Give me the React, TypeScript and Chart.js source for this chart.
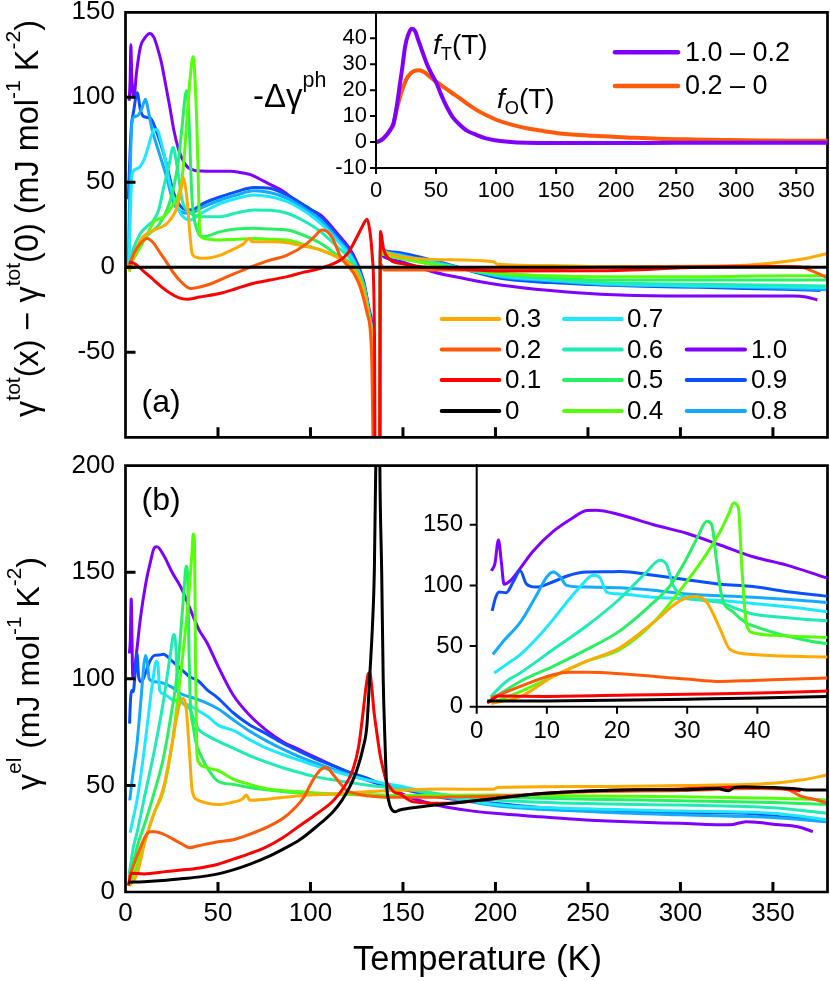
import React, { useEffect, useRef } from 'react';
import { Chart, registerables } from 'chart.js';

Chart.register(...registerables);

const W = 830;
const H = 981;
const AX = 100; // reserved width / height for axis boxes
const FONT = '"Liberation Sans", Arial, Helvetica, sans-serif';

// ---------------- series ----------------
const SERIES = ['0', '0.1', '0.2', '0.3', '0.4', '0.5', '0.6', '0.7', '0.8', '0.9', '1.0'];
const COLORS = ['#000000', '#ff0000', '#ff5a0a', '#ffaa00', '#55ff0a', '#28f064', '#1eecb4', '#1ee8ff', '#14aaff', '#0a50ff', '#8000ff'];

// ---------------- panel (a): gamma_tot(x) - gamma_tot(0) ----------------
const aT_00 = [0, 380];
const aV_00 = [0, 0];
const aT_01 = [1.8, 4.5, 10, 15.3, 20, 24.2, 29, 33.3, 40, 51.4, 60, 69.4, 78, 87.4, 96, 105.4, 116.2, 120, 125.2, 128, 130.6, 132, 133.3, 134.6, 135.1, 137.3, 137.8, 139.6, 143.2, 150, 159.5, 180, 203, 257, 311, 350, 370];
const aV_01 = [3, 2.4, -2.5, -7.5, -12, -15.3, -18, -18.8, -17.5, -15.3, -12.5, -9.4, -7.5, -5.5, -3, -0.6, 4.3, 8, 18, 24, 28.2, 22, 8, -40, -160, -160, 21, 10.2, 4.3, 2, 0.4, -1, -2.2, -2, 0, 0.4, 0];
const aT_02 = [1.8, 4.5, 8, 11.7, 15, 18.9, 22.5, 26.1, 30, 35.1, 44.1, 55, 65.8, 76, 87.4, 98.2, 103, 106, 109, 112, 116.2, 123.4, 127, 130.6, 133, 134.8, 137.3, 137.8, 140, 150, 180, 203, 257, 290, 329, 365, 372, 380];
const aV_02 = [0, 8.2, 14, 17, 14.5, 8.2, 2.5, -3.5, -8.5, -12.4, -10.4, -5.5, -0.6, 3.5, 7.2, 14.1, 19, 21.9, 21, 17, 6.2, -3.5, -12, -27, -50, -160, -160, 2, -1.6, -1.6, -1.6, -1.6, 0, 0.5, 0.8, 0, -2.5, -6.5];
const aT_03 = [2, 4, 8.1, 12, 15.3, 22.5, 27.9, 30, 31.2, 32.3, 33.3, 34.8, 36, 38, 40.5, 45, 51.4, 58, 64, 66.7, 68.5, 72, 78.4, 87.4, 96, 105.4, 114.4, 123.4, 128.8, 132.4, 134.4, 134.8, 137.3, 137.8, 140, 148.6, 170, 199, 201, 230, 257, 311, 347, 365, 380];
const aV_03 = [-2, 5, 16, 20, 21.9, 25.9, 35.6, 46, 52.9, 48, 39.6, 20, 8.2, 6, 5.3, 5.5, 7.2, 10.5, 14, 17, 15, 15, 15, 14.5, 12.5, 10.2, 5.9, -0.6, -14, -34, -70, -160, -160, 10, 9, 6.2, 4.5, 3.3, 1.8, 1, 0.4, 0.4, 2.3, 4.7, 8.2];
const aT_04 = [2, 4, 8.1, 12, 15.3, 20.7, 26.1, 29.7, 31.5, 33.3, 35, 36.6, 37.6, 38.7, 39.6, 40.2, 42.4, 51.4, 60, 69.4, 78.4, 87.4, 96, 105.4, 114.4, 123.4, 128.8, 132.4, 134.4, 134.8, 137.3, 137.8, 140, 150, 170, 202.7, 230, 256.8, 311, 356, 380];
const aV_04 = [-2.6, 4, 12.1, 20, 26.8, 29.8, 37.6, 47, 62, 88.6, 112, 124, 110, 78.8, 40, 20, 17, 16, 16.5, 17, 16.5, 16, 13.5, 10.2, 6.2, -1.6, -14, -34, -70, -160, -160, 8, 7.5, 5, 1, -3.5, -5, -5.5, -5.5, -5, -5];
const aT_05 = [2, 4, 8.1, 12, 15.3, 18, 20.7, 23.5, 26.1, 28.5, 30.6, 33, 34.2, 35.2, 36, 38.7, 42, 51.4, 60, 69.4, 78.4, 87.4, 96, 105.4, 114.4, 123.4, 128.8, 132.4, 134.4, 134.8, 137.3, 137.8, 140, 150, 170, 202.7, 230, 256.8, 311, 356, 380];
const aV_05 = [-1, 6, 14.1, 19, 21.9, 25, 29.8, 37, 47.4, 62, 82.7, 103.9, 90, 60, 39.6, 21.9, 18, 21, 22.5, 22.9, 22.5, 22, 19, 14.1, 7.2, 0.4, -12.5, -33, -70, -160, -160, 8, 7.5, 5, 1, -4, -6, -7.5, -7.5, -7.5, -7.5];
const aT_06 = [1.8, 4, 8.1, 12, 15.3, 18, 20.7, 23.5, 25.7, 27.9, 30.6, 35.1, 40.5, 51.4, 60, 69.4, 78.4, 87.4, 96, 105.4, 114.4, 123.4, 128.8, 132.4, 134.4, 134.8, 137.3, 137.8, 140, 150, 170, 202.7, 230, 256.8, 311, 356, 380];
const aV_06 = [0, 10, 20, 24.5, 27.8, 34, 47.4, 60, 70.4, 59.2, 39.6, 32, 29.8, 29.8, 32, 33.7, 33.5, 31.8, 27.5, 21, 12.1, 2.4, -11, -32, -70, -160, -160, 9, 8.5, 6, 1.5, -4.5, -7, -9, -10, -10.5, -11];
const aT_07 = [1.8, 3.6, 6.3, 9.9, 12.6, 15.3, 17.1, 18.9, 21.6, 24.3, 29.7, 35.1, 40.5, 51.4, 60, 69.4, 78, 87.4, 96, 105.4, 114.4, 123.4, 128.8, 132.4, 134.4, 134.8, 137.3, 137.8, 140, 150, 170, 202.7, 230, 256.8, 311, 356, 380];
const aV_07 = [0, 55, 58, 63, 72, 80.8, 81, 74.9, 63, 47.4, 31.8, 27.8, 31.5, 37.6, 40.5, 42.5, 41.5, 38.6, 33.5, 25.9, 15.7, 3.3, -11, -32, -70, -160, -160, 10, 9, 6.5, 2, -5, -7.5, -9.5, -11, -11.5, -12];
const aT_08 = [1.5, 2.2, 3.6, 6.3, 9, 10.8, 12.6, 14.4, 17.1, 21.6, 26.1, 29.7, 33.3, 36.9, 40.5, 51.4, 60, 69.4, 78, 87.4, 96, 105.4, 114.4, 123.4, 128.8, 132.4, 134.4, 134.8, 137.3, 137.8, 140, 150, 170, 202.7, 230, 256.8, 311, 356, 380];
const aV_08 = [0, 40, 87, 89, 94, 98.8, 90.6, 80.8, 71, 55.3, 37.6, 33, 31.8, 32.5, 34.7, 39.6, 42.5, 45, 44, 40.6, 35, 27.8, 17, 4.3, -10.4, -31, -70, -160, -160, 11, 9.5, 7, 2.5, -5.5, -8, -10, -11.2, -12.3, -13.2];
const aT_09 = [1.5, 3, 4.5, 6.3, 8.1, 9.9, 13.5, 17.1, 21.6, 26.1, 29.7, 33.3, 36.9, 40.5, 45, 51.4, 60, 69.4, 78, 87.4, 96, 105.4, 114.4, 123.4, 128.8, 132.4, 134.4, 134.8, 137.3, 137.8, 139.6, 145, 150.4, 170, 202.7, 230, 256.8, 280, 310.8, 335, 355.8, 375.7];
const aV_09 = [40, 80, 92.5, 102.7, 92.5, 88.6, 87.6, 78.8, 63.1, 43.5, 36, 33.7, 34, 36.6, 39, 41.5, 44.5, 47, 46.5, 42.5, 37, 29.8, 19, 5.3, -9.4, -31, -70, -160, -160, 12, 10.2, 9, 8.2, 3, -6.5, -9, -10.4, -11.2, -11.8, -12.4, -12.9, -13.7];
const aT_10 = [2, 2.5, 2.9, 3.4, 4.5, 6, 8.1, 10.5, 13.1, 15.5, 17.1, 19.5, 21.6, 24, 26.1, 28.8, 31, 33.3, 36, 40.5, 50, 56.8, 62, 67.6, 75, 85.6, 96.4, 105.4, 114.4, 123.2, 128.6, 132.2, 134.3, 134.8, 137.3, 137.8, 140, 150, 166, 185, 202.7, 229.7, 256.8, 292.8, 328.8, 361, 368, 374];
const aV_10 = [98, 110, 131, 112, 100, 115, 129.8, 135, 137.6, 135, 129.8, 120, 108, 94, 80.8, 69, 63, 59.2, 57.5, 56.6, 56.5, 56.5, 55.8, 54.5, 50.5, 44.5, 35.6, 30.8, 20, 7.2, -7.5, -27, -60, -160, -160, 8, 6, 3, -2.6, -7, -10.4, -13.7, -15.9, -16.9, -16.9, -16.9, -17.5, -19.2];

// ---------------- panel (b): gamma_el (also used by inset b) ----------------
const bT_00 = [1.5, 10, 22.1, 30, 40.2, 50, 58.2, 67, 76.2, 85, 94.2, 103, 112.2, 117, 121.2, 125, 128.4, 130.5, 132, 133.5, 134.5, 135.3, 136, 136.8, 137.5, 138.5, 139.3, 140.3, 141.1, 142.5, 144.7, 146, 148.3, 160, 180, 200, 225, 250, 275, 300, 320, 326, 329, 335, 350, 362, 368, 380];
const bV_00 = [4.6, 4.8, 5.5, 6.2, 7.1, 8.5, 10.4, 13, 16.2, 20, 24.5, 30.5, 37.7, 43, 49.3, 57, 67.5, 78, 100.7, 125, 150, 200, 300, 300, 200, 150, 100.7, 70, 51, 42, 38, 37.7, 38.5, 40, 42, 43.9, 46.2, 47.4, 48, 48, 48.5, 47.5, 49, 49.3, 49, 48.5, 47.8, 47.8];
const bT_01 = [1.5, 3.2, 10, 22.1, 30, 40.2, 50, 58.2, 67, 76.2, 85, 94.2, 103, 112.2, 118, 123, 126, 128.4, 130, 131.2, 132, 133, 134.3, 135.7, 137.5, 139.3, 141, 142.9, 145, 148.3, 155, 170, 181, 200, 225, 250, 300, 335, 355, 365];
const bV_01 = [3, 8.8, 8.5, 9.6, 10.3, 11.3, 13, 15.4, 18, 21.2, 25.5, 31.1, 36.5, 42.7, 49, 57.6, 68, 84.1, 96, 102.3, 103, 97.4, 85, 75.8, 65, 57.6, 52, 49.3, 47, 46, 42.4, 41.6, 42, 43.9, 46.2, 47.4, 48.3, 49.3, 48.5, 47.5];
const bT_02 = [2, 6.2, 10.9, 13.3, 15.7, 20.4, 29.9, 34.7, 39.4, 50, 58.2, 67, 76.2, 85, 90.6, 96, 101.4, 105, 107.7, 110, 112.2, 116, 119.4, 125, 130.3, 135, 140, 148.3, 170, 200, 250, 300, 340, 358, 365, 372, 380];
const bV_02 = [7, 16.7, 26.4, 28.3, 28.3, 27.2, 22.8, 20.8, 21.7, 23.6, 24.5, 27, 30.3, 34.5, 38.6, 44, 52.6, 57, 58.4, 57.5, 55.1, 51, 47.7, 46, 45.2, 44.8, 44.5, 44.4, 44.5, 45, 47, 47.6, 48.5, 48, 45, 43.5, 41.6];
const bT_03 = [2.1, 6.2, 10.9, 15.7, 20.4, 25.2, 29, 31.3, 32.8, 34.7, 36.1, 39.4, 45, 50, 58.2, 63, 65.4, 67.2, 76.2, 94.2, 112.2, 130, 148.3, 170, 199, 201, 250, 300, 350, 365, 380];
const bV_03 = [2.8, 8.3, 25, 37.5, 48.6, 69.5, 87.5, 90.8, 86, 64, 47.2, 43, 41.5, 41, 42.2, 43.5, 45.5, 43, 43.5, 45.2, 46, 47, 47.7, 48.3, 48.2, 49, 49.5, 50, 51, 52.5, 55];
const bT_04 = [2.1, 6.2, 10.9, 15.7, 20.4, 25.2, 29.9, 33, 34.7, 36, 36.6, 37.3, 37.8, 38.5, 39.4, 44.2, 50, 58.2, 67, 76.2, 94.2, 112.2, 130.3, 148.3, 170, 200, 250, 300, 350, 380];
const bV_04 = [2.8, 12.5, 25, 37.5, 47.2, 69.5, 102.8, 128, 144.5, 160, 168, 164, 114, 66.7, 61, 58.3, 57, 53, 50.5, 48.5, 47, 46, 45.5, 45.3, 45.4, 45.5, 45, 44.7, 44, 43.2];
const bT_05 = [2, 6.2, 10.9, 15.7, 20.4, 25.2, 27.6, 29.9, 31.5, 32.8, 33.5, 34.2, 34.9, 36.6, 38.4, 39.4, 44.2, 50, 58.2, 67, 76.2, 94.2, 112.2, 130.3, 148.3, 170, 200, 250, 300, 350, 380];
const bV_05 = [5.6, 20.8, 33.3, 47.2, 62.5, 86, 100, 122, 140, 152.8, 150, 119.5, 91.7, 77.8, 69, 66.7, 58.3, 52, 50.5, 49, 48, 46.5, 46, 45.6, 45.2, 44.8, 44.4, 43.5, 42.8, 42, 41];
const bT_06 = [2, 4.2, 6.2, 10.9, 15.7, 20.4, 24.2, 26.1, 27.1, 28, 29, 32.3, 34.7, 37.1, 39.4, 45, 50, 58.2, 67, 76.2, 85, 94.2, 103, 112.2, 130.3, 148.3, 170, 200, 250, 300, 350, 379];
const bV_06 = [8.3, 20.8, 27.8, 47.2, 66.7, 89, 111, 120.8, 116.7, 100, 92.5, 87.5, 86, 80.6, 76.4, 73, 70.8, 67.5, 64, 60.9, 58.3, 56, 54, 52.6, 50.2, 48.5, 46, 43.2, 41.5, 40.8, 39.5, 37];
const bT_07 = [2.5, 4.2, 6.2, 8.5, 10.9, 13.1, 14.7, 16.6, 17.6, 18.5, 20.4, 25.2, 29.9, 34.7, 39.4, 45, 50, 58.2, 67, 76.2, 85, 94.2, 103, 112.2, 130.3, 148.3, 170, 200, 250, 300, 350, 379];
const bV_07 = [27.8, 34.7, 43, 56, 72, 88, 98.6, 108.3, 106, 94.5, 93, 90.3, 89, 87.5, 85, 82, 78.3, 75.8, 71.5, 67.5, 64.5, 61.8, 59.2, 56.8, 52.6, 49.7, 45.5, 41, 39, 38, 37, 34];
const bT_08 = [2.3, 3.8, 6.2, 8.5, 10, 10.9, 11.9, 12.8, 15.7, 20.4, 25.2, 29.9, 39.4, 50, 58.2, 67, 76.2, 85, 94.2, 103, 112.2, 130.3, 148.3, 170, 200, 250, 300, 350, 379];
const bV_08 = [43, 54, 69.5, 91.7, 107, 111, 107, 100, 98.6, 98, 96, 93, 90.3, 86, 80.8, 75.5, 70.9, 67, 63.4, 60.4, 57.6, 52.6, 49.3, 45, 40.5, 37.8, 36.2, 35, 33];
const bT_09 = [2.2, 2.7, 3.2, 4.2, 5.2, 6.2, 7.1, 8.5, 10.9, 13, 15.7, 18.5, 20.4, 25.2, 29.9, 34.7, 39.4, 44, 50, 58.2, 67, 76.2, 85, 94.2, 103, 112.2, 121, 130.3, 137.5, 148.3, 170, 199.6, 224, 249, 275, 299.6, 335.6, 353.6, 375];
const bV_09 = [79, 90, 94.5, 94, 102.8, 112, 101, 98.6, 103, 108, 111, 111.2, 111.5, 108.3, 104.7, 101, 99, 95, 91, 84.1, 78.5, 74.2, 69.8, 65.9, 62.4, 59.3, 56.2, 53.5, 51, 48.5, 44.5, 41.6, 39.7, 38.5, 37.8, 37.2, 37, 35.3, 34.1];
const bT_10 = [2.1, 2.6, 3.1, 3.5, 3.9, 5, 6.2, 8, 10.9, 13.5, 15.7, 17, 20.4, 25.2, 29.9, 34.7, 39.4, 44.2, 50, 58.2, 67, 76.2, 85, 94.2, 103, 112.2, 121, 130.3, 139, 148.3, 155, 170, 185, 199.6, 224, 249, 275, 299.6, 326.6, 335.6, 353.6, 364, 371.6];
const bV_10 = [112, 118, 137.5, 120, 101, 105, 114, 128, 144.5, 155, 161.7, 162, 158.3, 150, 143, 133.3, 123.6, 116.7, 106, 92.4, 83, 75.8, 70.5, 66.7, 63, 59.3, 56, 52.6, 50, 46.5, 44, 40.5, 38.3, 36.9, 35.3, 33.8, 32.8, 32.2, 31.5, 33, 31.5, 30.5, 28.3];

// ---------------- inset (a): -Δγ_ph ----------------
const INSET_A_LABELS = ['1.0 – 0.2', '0.2 – 0'];
const INSET_A_COLORS = ['#8000ff', '#ff5a0a'];
const fT_T = [0, 3, 6.1, 9, 11.7, 14.4, 17, 20, 22, 24.2, 26.5, 29.7, 32.5, 35.3, 38.5, 42.2, 46, 50.5, 54.5, 58.9, 64, 70, 76, 83.9, 90, 97.8, 110, 125.5, 150, 200, 250, 300, 377];
const fT_V = [0, 0.4, 1.4, 2.8, 4.6, 7, 13, 22.6, 29, 36.7, 41, 43.7, 42.8, 39.2, 35, 30.3, 26.5, 22.6, 18, 13.6, 9.5, 6.6, 4.3, 2.7, 1.6, 0.8, 0.1, -0.3, -0.4, -0.4, -0.3, -0.3, -0.3];
const fO_T = [0, 3, 6.1, 9, 11.7, 14.4, 17, 20, 22.5, 25.6, 29, 32, 36, 40, 45, 50, 56.1, 63, 70, 77, 83.9, 92, 100.6, 112, 125.5, 140, 153.3, 180, 208.9, 235, 264.4, 290, 320, 350, 377];
const fO_V = [0, 0.4, 1.4, 2.8, 4.6, 6.5, 12, 17.4, 21, 24.5, 26.5, 27.4, 27.7, 27, 25.1, 23.3, 21.3, 19, 16.8, 14.4, 12.3, 10.3, 8.5, 6.8, 5.3, 4.2, 3.3, 2.4, 1.8, 1.3, 1, 0.8, 0.6, 0.5, 0.5];

// ---------------- legend of panel (a) ----------------
const LEG_COL1 = ['0.3', '0.2', '0.1', '0'];
const LEG_COL2 = ['0.7', '0.6', '0.5', '0.4'];
const LEG_COL3 = ['', '1.0', '0.9', '0.8'];

const A_T = [aT_00, aT_01, aT_02, aT_03, aT_04, aT_05, aT_06, aT_07, aT_08, aT_09, aT_10];
const A_V = [aV_00, aV_01, aV_02, aV_03, aV_04, aV_05, aV_06, aV_07, aV_08, aV_09, aV_10];
const B_T = [bT_00, bT_01, bT_02, bT_03, bT_04, bT_05, bT_06, bT_07, bT_08, bT_09, bT_10];
const B_V = [bV_00, bV_01, bV_02, bV_03, bV_04, bV_05, bV_06, bV_07, bV_08, bV_09, bV_10];

const zip = (t: number[], v: number[]) => {
  const n = Math.min(t.length, v.length);
  const out: { x: number; y: number }[] = [];
  for (let i = 0; i < n; i++) out.push({ x: t[i], y: v[i] });
  return out;
};

function seriesSets(ts: number[][], vs: number[][], width: number) {
  return SERIES.map((name, i) => ({
    label: name,
    data: zip(ts[i], vs[i]),
    borderColor: COLORS[i],
    backgroundColor: COLORS[i],
    borderWidth: width,
    pointRadius: 0,
    fill: false,
    cubicInterpolationMode: 'monotone' as const,
  }));
}

// ---------------- rich text helper ----------------
type Seg = { t: string; sup?: boolean; sub?: boolean; it?: boolean; raise?: number };
function drawRich(ctx: CanvasRenderingContext2D, segs: Seg[], x: number, y: number, sz: number,
  align: 'left' | 'center' = 'left', rot = 0, fit = 0) {
  const f = (s: Seg, size: number) => `${s.it ? 'italic ' : ''}${(s.sup || s.sub) ? size * 0.65 : size}px ${FONT}`;
  const width = (size: number) => {
    let w = 0;
    for (const s of segs) { ctx.font = f(s, size); w += ctx.measureText(s.t).width; }
    return w;
  };
  let size = sz;
  if (fit > 0) size = sz * fit / width(sz);
  const tw = width(size);
  ctx.save();
  ctx.translate(x, y);
  if (rot) ctx.rotate(rot);
  ctx.fillStyle = '#000';
  ctx.textBaseline = 'alphabetic';
  ctx.textAlign = 'left';
  let cx = align === 'center' ? -tw / 2 : 0;
  for (const s of segs) {
    ctx.font = f(s, size);
    const dy = s.sup ? -(s.raise ?? 0.5) * size : s.sub ? 0.22 * size : 0;
    ctx.fillText(s.t, cx, dy);
    cx += ctx.measureText(s.t).width;
  }
  ctx.restore();
}

function axesDeco(chart: any, inward: boolean, full: boolean, xt: number[], yt: number[], lw: number, tw: number, len: number) {
  const ctx: CanvasRenderingContext2D = chart.ctx;
  const { left, right, top, bottom } = chart.chartArea;
  const xs = chart.scales.x;
  const ys = chart.scales.y;
  ctx.save();
  ctx.strokeStyle = '#000';
  ctx.lineWidth = lw;
  ctx.lineJoin = 'miter';
  ctx.beginPath();
  if (full) {
    ctx.rect(left, top, right - left, bottom - top);
  } else {
    ctx.moveTo(left, top);
    ctx.lineTo(left, bottom);
    ctx.lineTo(right, bottom);
  }
  ctx.stroke();
  ctx.lineWidth = tw;
  ctx.beginPath();
  for (const v of xt) {
    const px = xs.getPixelForValue(v);
    ctx.moveTo(px, bottom);
    ctx.lineTo(px, inward ? bottom - len : bottom + len);
  }
  for (const v of yt) {
    const py = ys.getPixelForValue(v);
    ctx.moveTo(left, py);
    ctx.lineTo(inward ? left + len : left - len, py);
  }
  ctx.stroke();
  ctx.restore();
}

type Box = { l: number; t: number; r: number; b: number };
type Spec = {
  box: Box;
  x: [number, number, number];
  y: [number, number, number];
  xLabels: boolean;
  fontSize: number;
  xPad: number;
  yPad: number;
  xKeep?: number[];
  yKeep?: number[];
  datasets: any[];
  draw: (chart: any) => void;
};

function makeChart(canvas: HTMLCanvasElement, s: Spec) {
  const fitY = (sc: any) => { sc.width = AX; sc.paddingTop = 0; sc.paddingBottom = 0; sc.paddingLeft = 0; sc.paddingRight = 0; };
  const fitX = (sc: any) => { sc.height = AX; sc.paddingTop = 0; sc.paddingBottom = 0; sc.paddingLeft = 0; sc.paddingRight = 0; };
  const font = { family: FONT, size: s.fontSize };
  return new Chart(canvas, {
    type: 'line',
    data: { datasets: s.datasets },
    options: {
      animation: false,
      responsive: false,
      maintainAspectRatio: false,
      devicePixelRatio: 1,
      events: [],
      layout: { padding: { left: s.box.l - AX, right: W - s.box.r, top: s.box.t, bottom: H - s.box.b - AX } },
      plugins: { legend: { display: false }, tooltip: { enabled: false }, title: { display: false } },
      scales: {
        x: {
          type: 'linear', min: s.x[0], max: s.x[1],
          afterFit: fitX,
          afterBuildTicks: (sc: any) => { if (s.xKeep) sc.ticks = s.xKeep.map((value) => ({ value })); },
          grid: { display: false, drawTicks: false, tickLength: 0 },
          border: { display: false },
          ticks: { display: s.xLabels, stepSize: s.x[2], font, color: '#000', padding: s.xPad, maxRotation: 0, autoSkip: false, includeBounds: false },
        },
        y: {
          type: 'linear', min: s.y[0], max: s.y[1],
          afterFit: fitY,
          afterBuildTicks: (sc: any) => { if (s.yKeep) sc.ticks = s.yKeep.map((value) => ({ value })); },
          grid: { display: false, drawTicks: false, tickLength: 0 },
          border: { display: false },
          ticks: { stepSize: s.y[2], font, color: '#000', padding: s.yPad, autoSkip: false, includeBounds: false },
        },
      },
    } as any,
    plugins: [{ id: 'deco', afterDraw: s.draw }],
  });
}

const XT_MAIN = [50, 100, 150, 200, 250, 300, 350];
const XL_MAIN = [0, 50, 100, 150, 200, 250, 300, 350];
const YL_A = [-50, 0, 50, 100, 150];
const YL_B = [0, 50, 100, 150, 200];
const XL_IA = [0, 50, 100, 150, 200, 250, 300, 350];
const YL_IA = [-10, 0, 10, 20, 30, 40];
const XL_IB = [0, 10, 20, 30, 40];
const YL_IB = [0, 50, 100, 150];

export default function App() {
  const rA = useRef<HTMLCanvasElement>(null);
  const rB = useRef<HTMLCanvasElement>(null);
  const rIA = useRef<HTMLCanvasElement>(null);
  const rIB = useRef<HTMLCanvasElement>(null);

  useEffect(() => {
    const charts: Chart[] = [];

    // ---- panel (a)
    charts.push(makeChart(rA.current!, {
      box: { l: 125.5, t: 12.3, r: 827.5, b: 437.3 },
      x: [0, 379.5, 50],
      y: [-100, 150, 50],
      xLabels: false,
      fontSize: 26,
      xPad: 6,
      yPad: 10.5,
      xKeep: XL_MAIN,
      yKeep: YL_A,
      datasets: seriesSets(A_T, A_V, 3),
      draw: (chart: any) => {
        axesDeco(chart, true, true, XT_MAIN, [100, 50, 0, -50], 2.7, 3, 10);
        const ctx: CanvasRenderingContext2D = chart.ctx;
        drawRich(ctx, [{ t: 'γ' }, { t: 'tot', sup: true, raise: 0.55 }, { t: '(x) − γ' }, { t: 'tot', sup: true, raise: 0.55 },
          { t: '(0) (mJ mol' }, { t: '-1', sup: true, raise: 0.55 }, { t: ' K' }, { t: '-2', sup: true, raise: 0.55 }, { t: ')' }],
          38, 218.5, 32, 'center', -Math.PI / 2, 397);
        drawRich(ctx, [{ t: '(a)' }], 141.5, 412, 32);
        // legend
        const rows = [319, 349.5, 380, 411];
        const cols: [string[], number, number, number][] = [
          [LEG_COL1, 441.7, 499.3, 505],
          [LEG_COL2, 564, 621.7, 627],
          [LEG_COL3, 686.7, 745, 751],
        ];
        ctx.save();
        ctx.lineCap = 'round';
        ctx.lineWidth = 4;
        ctx.font = `26px ${FONT}`;
        ctx.textBaseline = 'middle';
        ctx.textAlign = 'left';
        for (const [labels, x0, x1, tx] of cols) {
          labels.forEach((lab, i) => {
            if (!lab) return;
            const c = COLORS[SERIES.indexOf(lab)];
            ctx.strokeStyle = c;
            ctx.beginPath();
            ctx.moveTo(x0, rows[i]);
            ctx.lineTo(x1, rows[i]);
            ctx.stroke();
            ctx.fillStyle = '#000';
            ctx.fillText(lab, tx, rows[i] + 1);
          });
        }
        ctx.restore();
      },
    }));

    // ---- panel (b)
    charts.push(makeChart(rB.current!, {
      box: { l: 125.5, t: 465.7, r: 827.5, b: 892 },
      x: [0, 379.5, 50],
      y: [0, 200, 50],
      xLabels: true,
      fontSize: 26,
      xPad: 6,
      yPad: 10.5,
      xKeep: XL_MAIN,
      yKeep: YL_B,
      datasets: seriesSets(B_T, B_V, 3),
      draw: (chart: any) => {
        axesDeco(chart, true, true, XT_MAIN, [50, 100, 150], 2.7, 3, 10);
        const ctx: CanvasRenderingContext2D = chart.ctx;
        drawRich(ctx, [{ t: 'γ' }, { t: 'el', sup: true, raise: 0.55 }, { t: ' (mJ mol' }, { t: '-1', sup: true, raise: 0.55 },
          { t: ' K' }, { t: '-2', sup: true, raise: 0.55 }, { t: ')' }],
          39, 673.5, 32, 'center', -Math.PI / 2, 233);
        drawRich(ctx, [{ t: '(b)' }], 141.5, 510, 32);
        drawRich(ctx, [{ t: 'Temperature (K)' }], 477.5, 970, 33, 'center', 0, 249);
      },
    }));

    // ---- inset (a)
    charts.push(makeChart(rIA.current!, {
      box: { l: 376, t: 12.3, r: 827.5, b: 168 },
      x: [0, 376, 50],
      y: [-10, 50, 10],
      xLabels: true,
      fontSize: 22,
      xPad: 9.8,
      yPad: 9,
      xKeep: XL_IA,
      yKeep: YL_IA,
      datasets: [
        { label: INSET_A_LABELS[0], data: zip(fT_T, fT_V), borderColor: INSET_A_COLORS[0], borderWidth: 4, pointRadius: 0, fill: false, cubicInterpolationMode: 'monotone' },
        { label: INSET_A_LABELS[1], data: zip(fO_T, fO_V), borderColor: INSET_A_COLORS[1], borderWidth: 4, pointRadius: 0, fill: false, cubicInterpolationMode: 'monotone' },
      ],
      draw: (chart: any) => {
        axesDeco(chart, false, false, XL_IA, YL_IA, 2, 2, 6);
        const ctx: CanvasRenderingContext2D = chart.ctx;
        drawRich(ctx, [{ t: '-Δγ' }, { t: 'ph', sup: true, raise: 0.6 }], 253, 107, 33);
        drawRich(ctx, [{ t: 'f', it: true }, { t: 'T', sub: true }, { t: '(T)' }], 433, 54, 28);
        drawRich(ctx, [{ t: 'f', it: true }, { t: 'O', sub: true }, { t: '(T)' }], 497, 108, 28);
        const rows = [52.3, 86];
        ctx.save();
        ctx.lineCap = 'round';
        ctx.lineWidth = 4.5;
        ctx.font = `27px ${FONT}`;
        ctx.textBaseline = 'middle';
        ctx.textAlign = 'left';
        INSET_A_LABELS.forEach((lab, i) => {
          ctx.strokeStyle = INSET_A_COLORS[i];
          ctx.beginPath();
          ctx.moveTo(615, rows[i]);
          ctx.lineTo(678, rows[i]);
          ctx.stroke();
          ctx.fillStyle = '#000';
          ctx.fillText(lab, 685, rows[i] + 1);
        });
        ctx.restore();
      },
    }));

    // ---- inset (b)
    charts.push(makeChart(rIB.current!, {
      box: { l: 476.7, t: 464.1, r: 827.5, b: 706.7 },
      x: [0, 50, 10],
      y: [0, 200, 50],
      xLabels: true,
      fontSize: 24,
      xPad: 10.4,
      yPad: 13.7,
      xKeep: XL_IB,
      yKeep: YL_IB,
      datasets: seriesSets(B_T, B_V, 3),
      draw: (chart: any) => {
        axesDeco(chart, false, false, XL_IB, YL_IB, 2, 2, 7);
      },
    }));

    return () => { charts.forEach((c) => c.destroy()); };
  }, []);

  const cs: React.CSSProperties = { position: 'absolute', left: 0, top: 0 };
  return (
    <div style={{ position: 'absolute', left: 0, top: 0, width: W, height: H, background: '#fff' }}>
      <canvas ref={rA} width={W} height={H} style={cs} />
      <canvas ref={rB} width={W} height={H} style={cs} />
      <canvas ref={rIA} width={W} height={H} style={cs} />
      <canvas ref={rIB} width={W} height={H} style={cs} />
    </div>
  );
}
